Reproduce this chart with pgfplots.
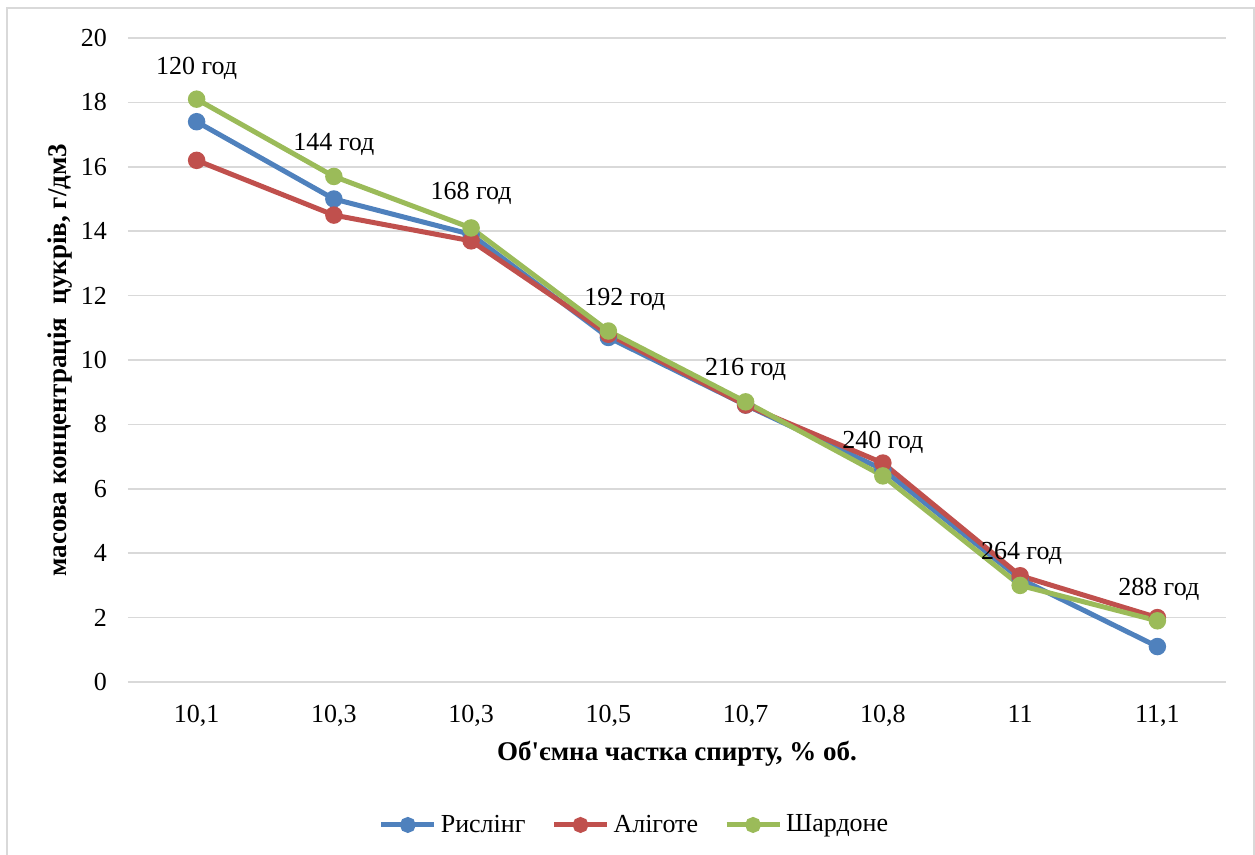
\documentclass[border=0pt]{standalone}
\usepackage{fontspec}
\setmainfont{Liberation Serif}
\usepackage{pgfplots}
\pgfplotsset{compat=1.18}
\definecolor{cBlue}{HTML}{4F81BD}
\definecolor{cRed}{HTML}{C0504D}
\definecolor{cGreen}{HTML}{9BBB59}
\definecolor{cGrid}{HTML}{D9D9D9}
\newcommand{\f}{\fontsize{13}{15.6}\selectfont}
\newcommand{\fl}{\fontsize{13.5}{16}\selectfont}
\begin{document}
\begin{tikzpicture}
\useasboundingbox (0pt,0pt) rectangle (627.5pt,427.5pt);
\draw[cGrid, line width=0.8pt] (3.5pt,-5pt) rectangle (627pt,423.5pt);
\begin{axis}[
  at={(64pt,86.5pt)}, anchor=south west,
  scale only axis, width=549pt, height=322pt,
  xmin=-0.5, xmax=7.5, ymin=0, ymax=20,
  xtick={0,1,2,3,4,5,6,7},
  xticklabels={{10,1},{10,3},{10,3},{10,5},{10,7},{10,8},{11},{11,1}},
  ytick={0,2,4,6,8,10,12,14,16,18,20},
  /pgf/number format/assume math mode=true,
  axis line style={draw=none},
  major tick length=0pt,
  ymajorgrids, grid style={cGrid, line width=0.8pt},
  tick label style={font=\f},
  xticklabel style={anchor=base, yshift=-20.5pt},
  yticklabel style={anchor=east, xshift=-7pt},
  xlabel={\textbf{Об\textquotesingle ємна частка спирту, \% об.}},
  ylabel={\textbf{масова концентрація\ \ цукрів, г/дм3}},
  label style={font=\fl},
  xlabel style={at={(axis description cs:0.5,0)}, anchor=center, yshift=-35.75pt},
  ylabel style={at={(axis description cs:0,0.5)}, anchor=center, yshift=34pt},
  clip=false,
  every axis plot/.append style={line width=2.5pt, mark=*, mark size=3.1pt, mark options={solid}},
  legend columns=3,
  legend style={draw=none, fill=none, font=\f, at={(axis description cs:0.4622,-0.222)}, anchor=center,
    /tikz/every even column/.append style={column sep=11pt},
    nodes={inner xsep=2pt}},
  legend image code/.code={\draw[mark repeat=2,mark phase=2,mark size=2.7pt,#1] plot coordinates {(0pt,0pt) (13.25pt,0pt) (26.5pt,0pt)};},
]
\addplot[color=cBlue] coordinates {(0,17.4) (1,15.0) (2,13.9) (3,10.7) (4,8.6) (5,6.6) (6,3.2) (7,1.1)};
\addlegendentry{Рислінг}
\addplot[color=cRed] coordinates {(0,16.2) (1,14.5) (2,13.7) (3,10.8) (4,8.6) (5,6.8) (6,3.3) (7,2.0)};
\addlegendentry{Аліготе}
\addplot[color=cGreen] coordinates {(0,18.1) (1,15.7) (2,14.1) (3,10.9) (4,8.7) (5,6.4) (6,3.0) (7,1.9)};
\addlegendentry{Шардоне}
\addplot[draw=none, mark=none, forget plot, nodes near coords, point meta=explicit symbolic,
  every node near coord/.append style={anchor=south, inner sep=0pt, text depth=0pt, yshift=-4.3pt, font=\f, text=black}]
  coordinates {(0,19.07) [120 год] (1,16.68) [144 год] (2,15.16) [168 год] (3.12,11.88) [192 год]
  (4,9.71) [216 год] (5,7.44) [240 год] (6.01,4.0) [264 год] (7.01,2.88) [288 год]};
\end{axis}
\end{tikzpicture}
\end{document}
